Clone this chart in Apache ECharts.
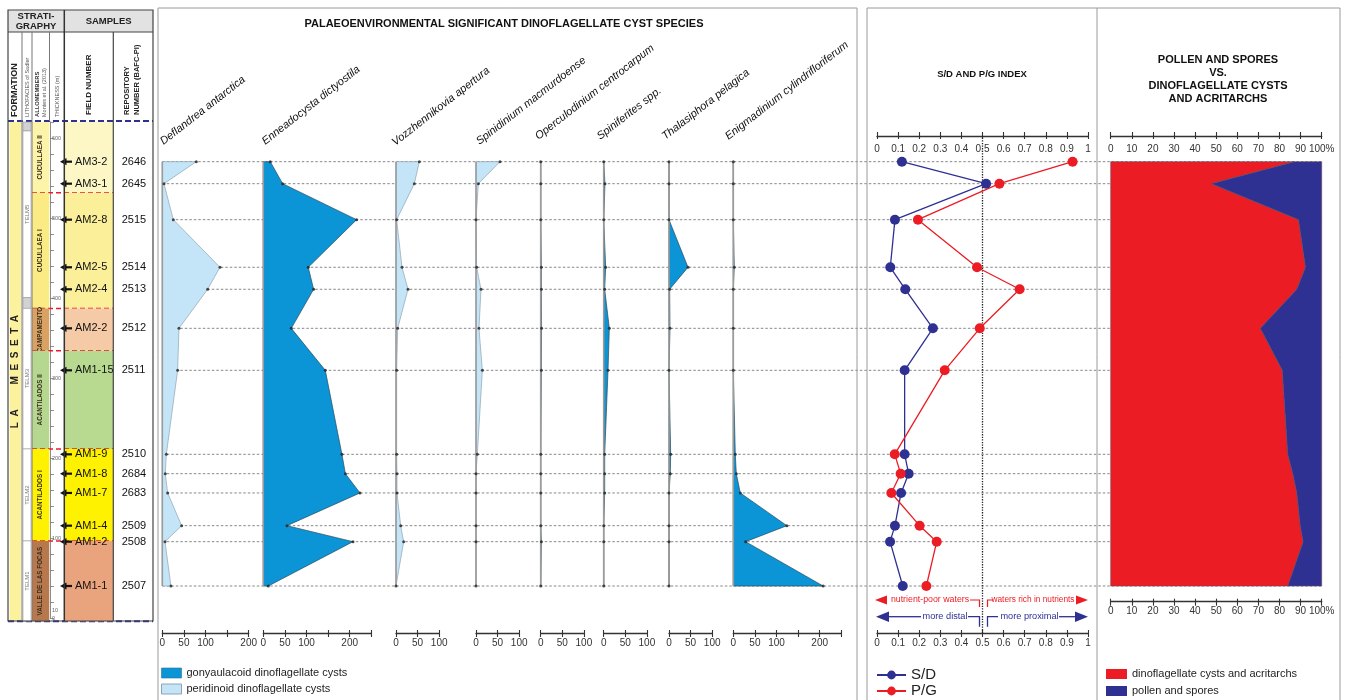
<!DOCTYPE html>
<html>
<head>
<meta charset="utf-8">
<title>La Meseta - dinoflagellate cysts</title>
<script src="https://cdn.jsdelivr.net/npm/echarts@6.0.0/dist/echarts.min.js"></script>
<style>
html, body { margin: 0; padding: 0; background: #fff; }
#main { width: 1345px; height: 700px; }
</style>
</head>
<body>
<div id="main"></div>
<script>
// ---- samples (top to bottom), thickness in m above base of section
var fieldNumbers = ['AM3-2', 'AM3-1', 'AM2-8', 'AM2-5', 'AM2-4', 'AM2-2', 'AM1-15', 'AM1-9', 'AM1-8', 'AM1-7', 'AM1-4', 'AM1-2', 'AM1-1'];
var repoNumbers = ['2646', '2645', '2515', '2514', '2513', '2512', '2511', '2510', '2684', '2683', '2509', '2508', '2507'];
var thickness = [570.4, 542.9, 497.9, 438.4, 410.9, 362.1, 309.6, 204.6, 180.4, 156.3, 115.4, 95.4, 40.0];

// ---- dinoflagellate cyst counts
var speciesNames = ['Deflandrea antarctica', 'Enneadocysta dictyostila', 'Vozzhennikovia apertura', 'Spinidinium macmurdoense',
  'Operculodinium centrocarpum', 'Spiniferites spp.', 'Thalasiphora pelagica', 'Enigmadinium cylindrifloriferum'];
var speciesGroup = ['peridinoid', 'gonyaulacoid', 'peridinoid', 'peridinoid', 'gonyaulacoid', 'gonyaulacoid', 'gonyaulacoid', 'gonyaulacoid'];
var deflandrea = [78.7, 3.9, 25.5, 133.5, 105, 38.6, 35.5, 9.3, 6.9, 12.3, 44.8, 6.2, 20];
var enneadocysta = [16.2, 44.8, 216, 104, 116.5, 64.8, 143.5, 182, 190, 223.8, 54.8, 207.6, 11.6];
var vozzhennikovia = [54, 42.4, 1.5, 13.9, 27.8, 3.9, 1.5, 1.5, 2.3, 2.3, 10.8, 17.7, 0];
var spinidinium = [55.6, 5.4, 0, 1.5, 11.6, 6.9, 14.7, 3.1, 0, 0, 0, 0, 0];
var operculodinium = [0, 0, 0, 1.5, 1.5, 2, 1.5, 0, 0, 0, 0, 1.5, 0];
var spiniferites = [0, 3, 0, 4.6, 2.3, 13, 10, 2.3, 2.3, 2.3, 0, 0, 0];
var thalasiphora = [0, 0, 0, 44, 1.5, 2.3, 0, 3.9, 3, 0, 0, 0, 0];
var enigmadinium = [0, 0, 0, 2.3, 0, 0, 0, 4.6, 7, 16.2, 124, 28.5, 208];
var speciesData = [deflandrea, enneadocysta, vozzhennikovia, spinidinium, operculodinium, spiniferites, thalasiphora, enigmadinium];
var scaleMax = [200, 250, 100, 100, 100, 100, 100, 250];

// ---- S/D and P/G index
var sdIndex = [0.118, 0.517, 0.085, 0.063, 0.134, 0.265, 0.131, 0.131, 0.15, 0.114, 0.085, 0.062, 0.122];
var pgIndex = [0.927, 0.58, 0.194, 0.474, 0.676, 0.487, 0.321, 0.084, 0.112, 0.068, 0.202, 0.283, 0.234];

// ---- % dinoflagellate cysts + acritarchs (rest = pollen and spores)
var dinoPercent = [87, 47.7, 89, 92.3, 88.2, 70.9, 81.3, 83.9, 86.3, 88.2, 89.8, 91.2, 83.9];

// ---- stratigraphy
var formationName = ['L  A         M  E  S  E  T  A'];
var formationTop = [620], formationBase = [-4];
var telmNames = ['TELM6', 'TELM5', 'TELM4', 'TELM3', 'TELM2', 'TELM1'];
var telmTop = [620, 608.8, 400.5, 387, 211.3, 96.3];
var telmBase = [608.8, 400.5, 387, 211.3, 96.3, -4];
var alloNames = ['CUCULLAEA II', 'CUCULLAEA I', 'CAMPAMENTO', 'ACANTILADOS II', 'ACANTILADOS I', 'VALLE DE LAS FOCAS'];
var alloTop = [620, 531.6, 387, 334.1, 211.3, 96.3];
var alloBase = [531.6, 387, 334.1, 211.3, 96.3, -4];
var thickLabels = [0, 10, 100, 200, 300, 400, 500, 600];

// ---- layout / style
var FONT = '"Liberation Sans", Arial, sans-serif';
var Y0 = 618, PXM = 0.8, PXU = 0.432; // px of 0 m, px per m, px per cyst
var GONY = '#0b94d6', PERI = '#c4e5f7', RED = '#ec1c24', NAVY = '#2e3092';
var speciesX = [162.3, 263.3, 396, 476, 540.7, 603.7, 669, 733.3];
var labelPos = [[165, 147], [266.7, 147], [396.7, 148], [481, 147], [540, 142], [601.7, 142], [666.7, 142], [730, 142]];
var alloFill = ['#fdf3a9', '#fbeb84', '#d9a262', '#b6d78f', '#fff200', '#b7784e'];
var fieldFill = ['#fdf7c6', '#fcef9a', '#f5caa6', '#b8d990', '#fff200', '#e9a47e'];

function yRange(top, bottom) {
  return {min: (Y0 - bottom) / PXM, max: (Y0 - top) / PXM};
}

var grids = [], xAxes = [], yAxes = [], series = [];
function addGrid(left, top, width, height) {
  grids.push({left: left, top: top, width: width, height: height, containLabel: false, outerBoundsMode: 'none'});
  var gi = grids.length - 1;
  var r = yRange(top, top + height);
  yAxes.push({gridIndex: gi, type: 'value', min: r.min, max: r.max, show: false});
  return gi;
}
function hiddenX(gi, min, max) {
  xAxes.push({gridIndex: gi, type: 'value', min: min, max: max, show: false});
  return xAxes.length - 1;
}
// axis with ticks crossing the line (main axis + twin for inner ticks)
function tickAxes(gi, min, max, interval, position, offset, fmt, labelInside) {
  xAxes.push({
    gridIndex: gi, type: 'value', min: min, max: max, interval: interval, position: position, offset: offset,
    axisLine: {show: true, onZero: false, lineStyle: {color: '#333', width: 1.3}},
    axisTick: {show: true, inside: false, length: 4, lineStyle: {color: '#333', width: 1.1}},
    axisLabel: {show: true, inside: labelInside, margin: labelInside ? 8 : 5, fontSize: 10, color: '#333', formatter: fmt},
    splitLine: {show: false}
  });
  var main = xAxes.length - 1;
  xAxes.push({
    gridIndex: gi, type: 'value', min: min, max: max, interval: interval, position: position, offset: offset,
    axisLine: {show: false, onZero: false},
    axisTick: {show: true, inside: true, length: 3, lineStyle: {color: '#333', width: 1.1}},
    axisLabel: {show: false}, splitLine: {show: false}
  });
  return main;
}
function ctext(x, y, s, o) {
  o = o || {};
  var a = o.align || 'left', va = o.va || 'middle';
  return {type: 'text', x: x, y: y, rotation: o.rot || 0, silent: true,
    style: {text: s, fill: o.color || '#111', fontSize: o.size || 11, fontWeight: o.weight || 'normal',
      fontStyle: o.italic ? 'italic' : 'normal', fontFamily: FONT,
      align: a, textAlign: a, verticalAlign: va, textVerticalAlign: va}};
}

// ---- grids
var gStrat = addGrid(8, 122, 145, 500);
var xStrat = hiddenX(gStrat, 0, 1);
var gThick = addGrid(50, Y0 - 620 * PXM, 14, 620 * PXM);
var xThick = hiddenX(gThick, 0, 1);
yAxes[gThick] = {
  gridIndex: gThick, type: 'value', min: 0, max: 620, interval: 20, position: 'left',
  axisLine: {show: true, onZero: false, lineStyle: {color: '#8c8c8c', width: 1}},
  axisTick: {show: true, inside: true, length: 4, lineStyle: {color: '#777', width: 0.8}},
  axisLabel: {show: true, inside: true, margin: 2, fontSize: 5.5, color: '#666', customValues: thickLabels},
  splitLine: {show: false}
};
var gLines = addGrid(162.3, 122, 1160, 500);
var xLines = hiddenX(gLines, 0, 1);

// sample levels (dashed)
series.push({
  type: 'custom', xAxisIndex: xLines, yAxisIndex: gLines, z: 1, silent: true,
  data: thickness.map(function (t) { return [0, t]; }),
  renderItem: function (params, api) {
    var a = api.coord([0, api.value(1)]), b = api.coord([1, api.value(1)]);
    return {type: 'line', shape: {x1: a[0], y1: a[1], x2: b[0], y2: b[1]},
      style: {stroke: '#6a6a6a', lineWidth: 0.8, lineDash: [2.5, 2]}};
  }
});

// ---- dinoflagellate species
speciesData.forEach(function (vals, k) {
  var gi = addGrid(speciesX[k], 122, scaleMax[k] * PXU, 500);
  var xi = tickAxes(gi, 0, scaleMax[k], 50, 'bottom', 11, function (v) {
    return (v === 150 || v === 250) ? '' : String(v);
  }, false);
  var peri = speciesGroup[k] === 'peridinoid';
  var fill = peri ? PERI : GONY, stroke = peri ? '#8ea4b2' : '#2b4a5c';
  series.push({
    type: 'custom', name: peri ? 'peridinoid dinoflagellate cysts' : 'gonyaulacoid dinoflagellate cysts',
    xAxisIndex: xi, yAxisIndex: gi, z: 2, silent: true,
    itemStyle: {color: fill, borderColor: stroke, borderWidth: 0.8},
    data: vals.map(function (v, i) { return [v, thickness[i]]; }),
    renderItem: function (params, api) {
      if (params.dataIndex !== 0) return null;
      var n = vals.length, pts = [api.coord([0, thickness[0]])];
      for (var i = 0; i < n; i++) pts.push(api.coord([vals[i], thickness[i]]));
      pts.push(api.coord([0, thickness[n - 1]]));
      return {type: 'group', children: [
        {type: 'polygon', shape: {points: pts}, style: {fill: fill, stroke: stroke, lineWidth: 0.7}},
        {type: 'line', shape: {x1: pts[0][0], y1: pts[0][1], x2: pts[n + 1][0], y2: pts[n + 1][1]},
          style: {stroke: '#9b9b9b', lineWidth: 1.6}}
      ]};
    }
  });
  series.push({
    type: 'scatter', xAxisIndex: xi, yAxisIndex: gi, z: 4, silent: true, symbolSize: 3,
    itemStyle: {color: '#222'},
    data: vals.map(function (v, i) { return [v, thickness[i]]; })
  });
});

// ---- S/D and P/G
var gSD = addGrid(877, 136, 211, 497);
var xSD = tickAxes(gSD, 0, 1, 0.1, 'top', 0, null, true);
tickAxes(gSD, 0, 1, 0.1, 'bottom', 0, null, false);
series.push({
  type: 'line', name: 'S/D', xAxisIndex: xSD, yAxisIndex: gSD, z: 5, silent: true,
  symbol: 'circle', symbolSize: 10, color: NAVY,
  lineStyle: {width: 1.3, color: NAVY}, itemStyle: {color: NAVY},
  data: sdIndex.map(function (v, i) { return [v, thickness[i]]; }),
  markLine: {silent: true, symbol: ['none', 'none'], label: {show: false},
    lineStyle: {type: 'dotted', color: '#222', width: 1.3}, data: [{xAxis: 0.5}]}
});
series.push({
  type: 'line', name: 'P/G', xAxisIndex: xSD, yAxisIndex: gSD, z: 5, silent: true,
  symbol: 'circle', symbolSize: 10, color: RED,
  lineStyle: {width: 1.3, color: RED}, itemStyle: {color: RED},
  data: pgIndex.map(function (v, i) { return [v, thickness[i]]; })
});

// ---- pollen vs dinoflagellates
var gPol = addGrid(1110.7, 136, 211, 465.7);
var pctFmt = function (v) { return v === 100 ? '100%' : String(v); };
var xPol = tickAxes(gPol, 0, 100, 10, 'top', 0, pctFmt, true);
tickAxes(gPol, 0, 100, 10, 'bottom', 0, pctFmt, false);
series.push({
  type: 'custom', name: 'dinoflagellate cysts and acritarchs', xAxisIndex: xPol, yAxisIndex: gPol, z: 3, silent: true,
  itemStyle: {color: RED},
  data: dinoPercent.map(function (v, i) { return [v, thickness[i]]; }),
  renderItem: function (params, api) {
    if (params.dataIndex !== 0) return null;
    var n = dinoPercent.length, pts = [api.coord([0, thickness[0]])];
    for (var i = 0; i < n; i++) pts.push(api.coord([dinoPercent[i], thickness[i]]));
    pts.push(api.coord([0, thickness[n - 1]]));
    return {type: 'polygon', shape: {points: pts}, style: {fill: RED, stroke: '#6b4a5a', lineWidth: 0.6}};
  }
});
series.push({
  type: 'custom', name: 'pollen and spores', xAxisIndex: xPol, yAxisIndex: gPol, z: 3, silent: true,
  itemStyle: {color: NAVY},
  data: dinoPercent.map(function (v, i) { return [100 - v, thickness[i]]; }),
  renderItem: function (params, api) {
    if (params.dataIndex !== 0) return null;
    var n = dinoPercent.length, pts = [];
    for (var i = 0; i < n; i++) pts.push(api.coord([dinoPercent[i], thickness[i]]));
    pts.push(api.coord([100, thickness[n - 1]]));
    pts.push(api.coord([100, thickness[0]]));
    return {type: 'polygon', shape: {points: pts}, style: {fill: NAVY, stroke: '#6b4a5a', lineWidth: 0.6}};
  }
});

// ---- stratigraphic column
series.push({
  type: 'custom', xAxisIndex: xStrat, yAxisIndex: gStrat, z: 2, silent: true,
  data: formationName.map(function (n, i) { return [0, formationTop[i], formationBase[i]]; }),
  renderItem: function (params, api) {
    var i = params.dataIndex, x0 = params.coordSys.x;
    var yT = api.coord([0, formationTop[i]])[1], yB = api.coord([0, formationBase[i]])[1];
    return {type: 'group', children: [
      {type: 'rect', shape: {x: x0 + 1.5, y: yT, width: 11.5, height: yB - yT}, style: {fill: '#fcf29e'}},
      ctext(x0 + 7.3, (yT + yB) / 2, formationName[i], {rot: Math.PI / 2, size: 10, weight: 'bold', align: 'center', color: '#222'}),
      {type: 'line', shape: {x1: x0, y1: yT - 1, x2: x0 + 145, y2: yT - 1}, style: {stroke: NAVY, lineWidth: 2, lineDash: [6, 3]}},
      {type: 'line', shape: {x1: x0, y1: yB, x2: x0 + 145, y2: yB}, style: {stroke: NAVY, lineWidth: 2, lineDash: [6, 3]}}
    ]};
  }
});
series.push({
  type: 'custom', xAxisIndex: xStrat, yAxisIndex: gStrat, z: 2, silent: true,
  data: telmNames.map(function (n, i) { return [0, telmTop[i], telmBase[i]]; }),
  renderItem: function (params, api) {
    var i = params.dataIndex, x0 = params.coordSys.x;
    var yT = api.coord([0, telmTop[i]])[1], yB = api.coord([0, telmBase[i]])[1];
    var small = yB - yT < 20;
    var kids = [
      {type: 'rect', shape: {x: x0 + 15, y: yT, width: 8, height: yB - yT}, style: {fill: small ? '#d2d2d2' : '#fff', stroke: '#9a9a9a', lineWidth: 0.6}}
    ];
    if (!small) kids.push(ctext(x0 + 19, (yT + yB) / 2, telmNames[i], {rot: Math.PI / 2, size: 6, align: 'center', color: '#777'}));
    return {type: 'group', children: kids};
  }
});
series.push({
  type: 'custom', xAxisIndex: xStrat, yAxisIndex: gStrat, z: 2, silent: true,
  data: alloNames.map(function (n, i) { return [0, alloTop[i], alloBase[i]]; }),
  renderItem: function (params, api) {
    var i = params.dataIndex, x0 = params.coordSys.x;
    var yT = api.coord([0, alloTop[i]])[1], yB = api.coord([0, alloBase[i]])[1];
    var kids = [
      {type: 'rect', shape: {x: x0 + 24, y: yT, width: 17.3, height: yB - yT}, style: {fill: alloFill[i]}},
      {type: 'rect', shape: {x: x0 + 56.3, y: yT, width: 49, height: yB - yT}, style: {fill: fieldFill[i]}},
      ctext(x0 + 32.7, (yT + yB) / 2, alloNames[i], {rot: Math.PI / 2, size: 6.3, weight: 'bold', align: 'center', color: '#3a3020'})
    ];
    if (i < alloNames.length - 1) {
      kids.push({type: 'line', shape: {x1: x0 + 24, y1: yB, x2: x0 + 105.3, y2: yB}, style: {stroke: RED, lineWidth: 1.5, lineDash: [5, 3]}});
    }
    return {type: 'group', children: kids};
  }
});
series.push({
  type: 'custom', xAxisIndex: xStrat, yAxisIndex: gStrat, z: 3, silent: true,
  data: thickness.map(function (t) { return [0, t]; }),
  renderItem: function (params, api) {
    var i = params.dataIndex, x0 = params.coordSys.x;
    var y = api.coord([0, thickness[i]])[1];
    return {type: 'group', children: [
      {type: 'polygon', shape: {points: [[x0 + 52, y], [x0 + 58.5, y - 3.6], [x0 + 58.5, y + 3.6]]}, style: {fill: '#111'}},
      {type: 'line', shape: {x1: x0 + 58, y1: y, x2: x0 + 64, y2: y}, style: {stroke: '#111', lineWidth: 2.2}},
      ctext(x0 + 67, y, fieldNumbers[i], {size: 11}),
      ctext(x0 + 113.7, y, repoNumbers[i], {size: 11})
    ]};
  }
});

// ---- static drawing: frames, headers, titles, annotations
var gfx = [];
function gtext(x, y, s, o) { var t = ctext(x, y, s, o); t.z = 120; return t; }
function gline(x1, y1, x2, y2, c, w) {
  return {type: 'line', z: 100, silent: true, shape: {x1: x1, y1: y1, x2: x2, y2: y2}, style: {stroke: c, lineWidth: w}};
}
function gpoly(pts, c, w) {
  return {type: 'polyline', z: 100, silent: true, shape: {points: pts}, style: {stroke: c, lineWidth: w, fill: 'none'}};
}
function gtri(pts, c) {
  return {type: 'polygon', z: 100, silent: true, shape: {points: pts}, style: {fill: c}};
}

// panel frames
gfx.push(gpoly([[158, 702], [158, 8], [857, 8], [857, 702]], '#9a9a9a', 1));
gfx.push(gpoly([[867, 702], [867, 8], [1340, 8], [1340, 702]], '#9a9a9a', 1));
gfx.push(gline(1097, 8, 1097, 702, '#9a9a9a', 1));

// titles
gfx.push(gtext(504, 24, 'PALAEOENVIRONMENTAL SIGNIFICANT DINOFLAGELLATE CYST SPECIES', {size: 11, weight: 'bold', align: 'center'}));
gfx.push(gtext(982, 74, 'S/D AND P/G INDEX', {size: 9.5, weight: 'bold', align: 'center'}));
['POLLEN AND SPORES', 'VS.', 'DINOFLAGELLATE CYSTS', 'AND ACRITARCHS'].forEach(function (s, i) {
  gfx.push(gtext(1218, 60 + i * 13, s, {size: 11, weight: 'bold', align: 'center'}));
});

// species names
speciesNames.forEach(function (s, k) {
  gfx.push(gtext(labelPos[k][0], labelPos[k][1], s, {size: 11, italic: true, va: 'bottom', rot: 38 * Math.PI / 180}));
});

// stratigraphic header
gfx.push({type: 'rect', z: 99, silent: true, shape: {x: 8, y: 10, width: 145, height: 22}, style: {fill: '#e2e2e2'}});
gfx.push({type: 'rect', z: 100, silent: true, shape: {x: 8, y: 10, width: 145, height: 611}, style: {fill: 'none', stroke: '#444', lineWidth: 1.2}});
gfx.push(gline(8, 32, 153, 32, '#444', 1.2));
gfx.push(gline(22, 32, 22, 621, '#777', 1));
gfx.push(gline(32, 32, 32, 621, '#777', 1));
gfx.push(gline(49.5, 32, 49.5, 121, '#777', 1));
gfx.push(gline(64.3, 10, 64.3, 621, '#333', 1.5));
gfx.push(gline(113.3, 32, 113.3, 621, '#444', 1.2));
gfx.push(gtext(36, 16.5, 'STRATI-', {size: 9.5, weight: 'bold', align: 'center', color: '#222'}));
gfx.push(gtext(36, 26, 'GRAPHY', {size: 9.5, weight: 'bold', align: 'center', color: '#222'}));
gfx.push(gtext(108.6, 21, 'SAMPLES', {size: 9.5, weight: 'bold', align: 'center', color: '#222'}));
var up = Math.PI / 2;
gfx.push(gtext(15, 117, 'FORMATION', {size: 9, weight: 'bold', rot: up, color: '#222'}));
gfx.push(gtext(27, 117, 'LITHOFACIES of Sadler', {size: 5.5, rot: up, color: '#555'}));
gfx.push(gtext(37.5, 117, 'ALLOMEMBERS', {size: 5.8, weight: 'bold', rot: up, color: '#333'}));
gfx.push(gtext(44, 117, 'Montes et al. (2013)', {size: 5.5, rot: up, color: '#555'}));
gfx.push(gtext(57, 117, 'THICKNESS (m)', {size: 5.5, rot: up, color: '#555'}));
gfx.push(gtext(89, 115, 'FIELD NUMBER', {size: 8, weight: 'bold', rot: up, color: '#222'}));
gfx.push(gtext(126.5, 115, 'REPOSITORY', {size: 7.5, weight: 'bold', rot: up, color: '#222'}));
gfx.push(gtext(136.5, 115, 'NUMBER (BAFC-PI)', {size: 7.5, weight: 'bold', rot: up, color: '#222'}));

// nutrient / proximality arrows
gfx.push(gtri([[875, 600], [887, 595.5], [887, 604.5]], RED));
gfx.push(gtext(930, 600, 'nutrient-poor waters', {size: 8.8, align: 'center', color: RED}));
gfx.push(gpoly([[970, 600], [979.5, 600], [979.5, 607]], RED, 1.2));
gfx.push(gpoly([[987.5, 607], [987.5, 600], [993, 600]], RED, 1.2));
gfx.push(gtext(1033, 600, 'waters rich in nutrients', {size: 8.3, align: 'center', color: RED}));
gfx.push(gtri([[1088, 600], [1076, 595.5], [1076, 604.5]], RED));
gfx.push(gtri([[876, 616.7], [889, 611.5], [889, 622]], NAVY));
gfx.push(gline(889, 616.7, 921, 616.7, NAVY, 1.3));
gfx.push(gtext(945, 616.7, 'more distal', {size: 9.2, align: 'center', color: NAVY}));
gfx.push(gpoly([[968, 616.7], [979.5, 616.7], [979.5, 626.7]], NAVY, 1.3));
gfx.push(gpoly([[987.5, 626.7], [987.5, 616.7], [998, 616.7]], NAVY, 1.3));
gfx.push(gtext(1029.5, 616.7, 'more proximal', {size: 9.2, align: 'center', color: NAVY}));
gfx.push(gline(1059, 616.7, 1076, 616.7, NAVY, 1.3));
gfx.push(gtri([[1088, 616.7], [1075, 611.5], [1075, 622]], NAVY));

var legends = [
  {left: 161, top: 667, orient: 'vertical', padding: 0, itemWidth: 20, itemHeight: 10, itemGap: 4, icon: 'rect',
    selectedMode: false, textStyle: {fontSize: 11, lineHeight: 12, color: '#222', fontFamily: FONT},
    data: [{name: 'gonyaulacoid dinoflagellate cysts', itemStyle: {borderColor: '#2b6e96', borderWidth: 0.6}},
      {name: 'peridinoid dinoflagellate cysts', itemStyle: {borderColor: '#8ea4b2', borderWidth: 1}}]},
  {left: 876, top: 667, orient: 'vertical', padding: 0, itemWidth: 29, itemHeight: 11, itemGap: 0,
    selectedMode: false, textStyle: {fontSize: 15, lineHeight: 16, color: '#222', fontFamily: FONT},
    data: ['S/D', 'P/G']},
  {left: 1106, top: 668, orient: 'vertical', padding: 0, itemWidth: 21, itemHeight: 10, itemGap: 5, icon: 'rect',
    selectedMode: false, textStyle: {fontSize: 11, lineHeight: 12, color: '#222', fontFamily: FONT},
    data: ['dinoflagellate cysts and acritarchs', 'pollen and spores']}
];

var chart = echarts.init(document.getElementById('main'));
chart.setOption({
  animation: false,
  backgroundColor: '#ffffff',
  textStyle: {fontFamily: FONT},
  grid: grids,
  xAxis: xAxes,
  yAxis: yAxes,
  legend: legends,
  graphic: {elements: gfx},
  series: series
});
</script>
</body>
</html>
